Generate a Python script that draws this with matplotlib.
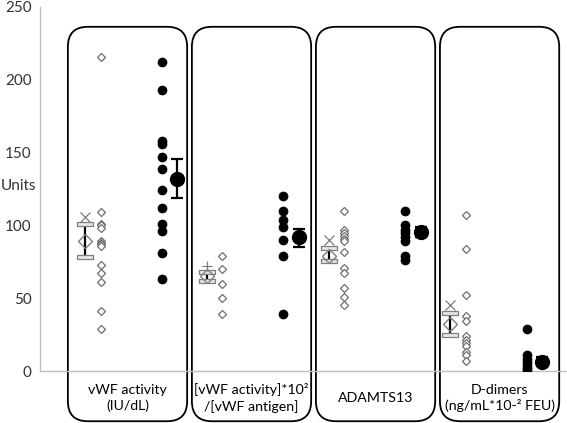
import numpy as np
import matplotlib
matplotlib.use("Agg")
import matplotlib.pyplot as plt
from matplotlib.patches import FancyBboxPatch
from matplotlib.path import Path

plt.rcParams['font.family'] = ['Lato', 'DejaVu Sans']

# data
categories = ["vWF activity\n(IU/dL)",
              "[vWF activity]*10²\n/[vWF antigen]",
              "ADAMTS13",
              "D-dimers\n(ng/mL*10-² FEU)"]

open_vals = [
    [216, 109, 101, 100, 98, 89, 88, 87, 86, 73, 67, 61, 41, 29],
    [79, 70, 60, 50, 39],
    [110, 97, 95, 93, 91, 89, 82, 71, 67, 57, 51, 45],
    [107, 84, 52, 38, 34, 24, 21, 19, 17, 13, 11, 7],
]
filled_vals = [
    [212, 193, 158, 156, 147, 139, 124, 112, 101, 96, 81, 63],
    [120, 110, 104, 99, 90, 79, 39],
    [110, 100, 97, 95, 92, 89, 79, 76],
    [29, 11, 8, 6, 4, 2, 1],
]

# summary of the open group: mean, lower, upper, extra marker value
open_mean = [89, 65, 79, 32]
open_low = [78, 62, 75.5, 24.5]
open_high = [101, 68, 84.5, 40]
open_extra = [106, 72, 90, 45]
extra_marker = ['x', '+', 'x', 'x']

# summary of the filled group
filled_mean = [132, 92, 95.5, 6.5]
filled_low = [119, 85.5, 92, 3.6]
filled_high = [145.5, 97.6, 99, 9.4]

fig = plt.figure(figsize=(5.67, 4.23), dpi=100)
ax = fig.add_axes([40 / 567, 1 - 371 / 423, 527 / 567, 364 / 423])
ax.set_xlim(-0.749, 3.581)
ax.set_ylim(0, 250)

gray = '#7f7f7f'
cap_path = Path([(-1, -0.22), (1, -0.22), (1, 0.22), (-1, 0.22), (-1, -0.22)],
                [Path.MOVETO, Path.LINETO, Path.LINETO, Path.LINETO, Path.CLOSEPOLY])

# rounded panels behind each category
px_per_x = 527 / 4.33
px_per_y = 364 / 250
for i, lab in enumerate(categories):
    left = -0.52 + 1.019 * i
    w = 0.98
    box = FancyBboxPatch((left, -34.5), w, 270.9,
                         boxstyle="round,pad=0,rounding_size=%f" % (20 / px_per_x),
                         mutation_aspect=px_per_x / px_per_y,
                         fc='none', ec='black', lw=1.3, clip_on=False, zorder=1)
    ax.add_patch(box)
    ax.text(left + w / 2, -18.5, lab, ha='center', va='center',
            fontsize=10.2, linespacing=1.3, color='black', clip_on=False)

for i in range(4):
    xo = np.full(len(open_vals[i]), i - 0.25)
    ax.plot(xo, open_vals[i], ls='none', marker='D', ms=4.5, mfc='white',
            mec='#6e6e6e', mew=0.9, zorder=3)
    xf = np.full(len(filled_vals[i]), i + 0.25)
    ax.plot(xf, filled_vals[i], ls='none', marker='o', ms=6.5, mfc='black',
            mec='black', mew=0.5, zorder=3)

    # open summary
    xs = i - 0.378
    ax.plot([xs, xs], [open_low[i], open_high[i]], color='black', lw=1.6, zorder=4)
    ax.plot([xs, xs], [open_low[i], open_high[i]], ls='none', marker=cap_path,
            ms=11.5, mfc='#e6e6e6', mec=gray, mew=0.9, zorder=5)
    ax.plot([xs], [open_mean[i]], ls='none', marker='D', ms=7.0, mfc='none',
            mec=gray, mew=1.0, zorder=5)
    ax.plot([xs], [open_extra[i]], ls='none', marker=extra_marker[i], ms=7.5,
            mec=gray, mew=0.9, zorder=5)

    # filled summary
    xb = i + 0.378
    ax.errorbar([xb], [filled_mean[i]],
                yerr=[[filled_mean[i] - filled_low[i]], [filled_high[i] - filled_mean[i]]],
                fmt='o', ms=10, color='black', ecolor='black', elinewidth=1.6,
                capsize=4.5, capthick=1.6, zorder=5)

for s in ['top', 'right']:
    ax.spines[s].set_visible(False)
for s in ['left', 'bottom']:
    ax.spines[s].set_color('#bfbfbf')
    ax.spines[s].set_linewidth(1.0)
ax.set_xticks([])
ax.set_yticks([0, 50, 100, 150, 200, 250])
ax.tick_params(axis='y', length=0, pad=6, labelsize=11, labelcolor='#333333')
fig.text(1 / 567, 1 - 186 / 423, 'Units', ha='left', va='center', fontsize=11,
         color='#333333')

fig.savefig('out.png', dpi=100)
